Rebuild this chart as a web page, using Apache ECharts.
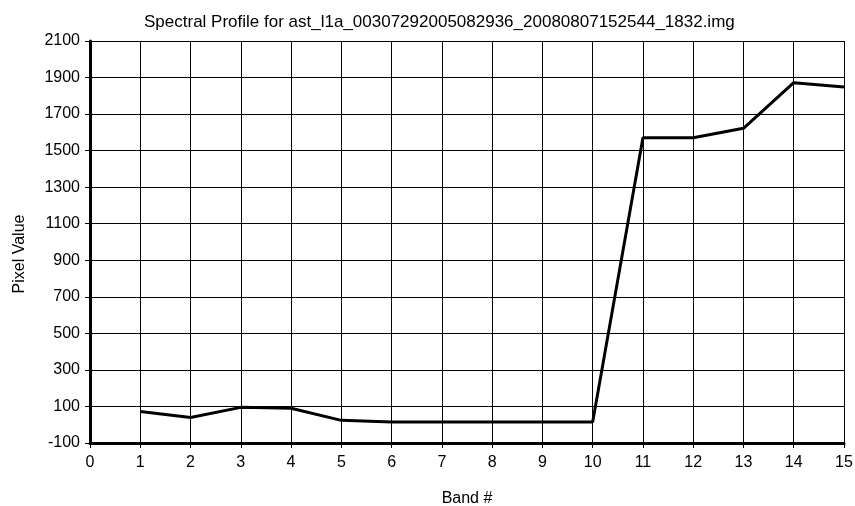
<!DOCTYPE html>
<html>
<head>
<meta charset="utf-8">
<title>Spectral Profile</title>
<script src="https://cdn.jsdelivr.net/npm/echarts@6/dist/echarts.min.js"></script>
<style>
  html, body { margin: 0; padding: 0; background: #fff; }
  #chart { width: 855px; height: 506px; }
</style>
</head>
<body>
<div id="chart"></div>
<script>
// band numbers and pixel values
const bands = [1, 2, 3, 4, 5, 6, 7, 8, 9, 10, 11, 12, 13, 14, 15];
const pixelValues = [72, 40, 95, 90, 24, 15, 15, 15, 15, 15, 1570, 1570, 1622, 1872, 1848];

const titleText = "Spectral Profile for ast_l1a_00307292005082936_20080807152544_1832.img";
const font = "Liberation Sans, Arial, sans-serif";

const chart = echarts.init(document.getElementById("chart"));

const option = {
  animation: false,
  backgroundColor: "#fff",
  title: {
    text: titleText,
    left: 139,
    top: 9,
    textStyle: { fontFamily: font, fontSize: 17, fontWeight: "normal", color: "#000" }
  },
  grid: { left: 90, right: 11, top: 41, bottom: 63, containLabel: false, outerBoundsMode: "none" },
  xAxis: {
    type: "value",
    min: 0,
    max: 15,
    interval: 1,
    name: "Band #",
    nameLocation: "middle",
    nameGap: 48,
    nameTextStyle: { fontFamily: font, fontSize: 16, color: "#000" },
    axisLine: { onZero: false, lineStyle: { color: "#000", width: 3 } },
    axisTick: { show: true, length: 5, lineStyle: { color: "#000", width: 1 } },
    axisLabel: { margin: 12, fontFamily: font, fontSize: 16, color: "#000" },
    splitLine: { show: true, lineStyle: { color: "#000", width: 1 } }
  },
  yAxis: {
    type: "value",
    min: -100,
    max: 2100,
    interval: 200,
    name: "Pixel Value",
    nameLocation: "middle",
    nameGap: 62,
    nameTextStyle: { fontFamily: font, fontSize: 16, color: "#000", padding: [0, 24, 0, 0] },
    axisLine: { show: true, onZero: false, lineStyle: { color: "#000", width: 3 } },
    axisTick: { show: true, length: 5, lineStyle: { color: "#000", width: 1 } },
    axisLabel: { margin: 10, fontFamily: font, fontSize: 16, color: "#000", formatter: (v) => String(v) },
    splitLine: { show: true, lineStyle: { color: "#000", width: 1 } }
  },
  series: [
    {
      type: "line",
      data: bands.map((b, i) => [b, pixelValues[i]]),
      showSymbol: false,
      lineStyle: { color: "#000", width: 3 },
      itemStyle: { color: "#000" }
    }
  ]
};

chart.setOption(option);
</script>
</body>
</html>
